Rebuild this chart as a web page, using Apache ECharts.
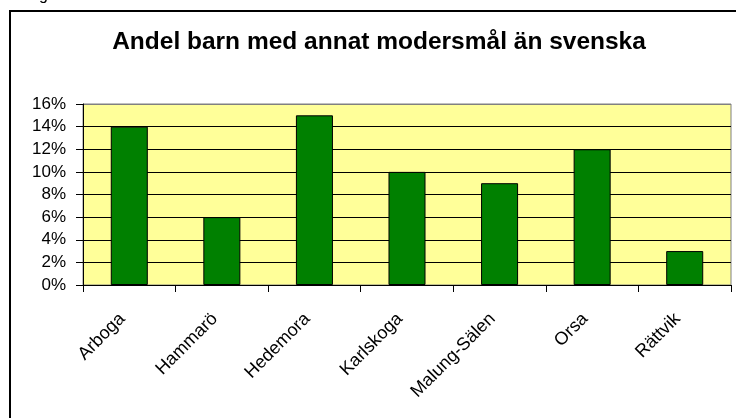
<!DOCTYPE html>
<html>
<head>
<meta charset="utf-8">
<script src="https://cdn.jsdelivr.net/npm/echarts@6/dist/echarts.min.js"></script>
<style>
html,body{margin:0;padding:0;background:#fff;}
#c{width:736px;height:418px;}
</style>
</head>
<body>
<div id="c"></div>
<script>
const titleText = 'Andel barn med annat modersmål än svenska';
const categories = ['Arboga', 'Hammarö', 'Hedemora', 'Karlskoga', 'Malung-Sälen', 'Orsa', 'Rättvik'];
const values = [14, 6, 15, 10, 9, 12, 3];
const yTicks = [0, 2, 4, 6, 8, 10, 12, 14, 16];

const chart = echarts.init(document.getElementById('c'), null, {renderer: 'canvas'});
const font = 'Liberation Sans, Arial, sans-serif';
chart.setOption({
  animation: false,
  backgroundColor: '#ffffff',
  textStyle: {fontFamily: font},
  title: {
    text: titleText,
    left: 374, top: 25,
    textAlign: 'center',
    textStyle: {fontFamily: font, fontSize: 24.5, fontWeight: 'bold', color: '#000'}
  },
  graphic: [
    {type: 'rect', shape: {x: 10, y: 11, width: 800, height: 500},
     style: {fill: 'none', stroke: '#000', lineWidth: 2}, z: 100},
    {type: 'text', left: 39, top: -12, style: {text: 'g', font: '16px Liberation Sans', fill: '#000'}}
  ],
  grid: {
    left: 83, right: 5, top: 104, bottom: 133,
    show: true, backgroundColor: '#FFFF99', borderColor: '#808080', borderWidth: 1
  },
  xAxis: {
    type: 'category',
    data: categories,
    axisLine: {show: true, lineStyle: {color: '#000', width: 1}},
    axisTick: {show: true, alignWithLabel: false, length: 7, inside: false, lineStyle: {color: '#000'}},
    axisLabel: {rotate: 45, margin: 24, padding: [0, 10, 0, 0], fontSize: 18, color: '#000', fontFamily: font, interval: 0},
    splitLine: {show: false}
  },
  yAxis: {
    type: 'value',
    min: yTicks[0], max: yTicks[yTicks.length - 1], interval: 2,
    axisLine: {show: true, lineStyle: {color: '#000', width: 1}},
    axisTick: {show: true, length: 7, lineStyle: {color: '#000'}},
    axisLabel: {formatter: v => v + '%', fontSize: 17, color: '#000', margin: 17, fontFamily: font},
    splitLine: {show: true, lineStyle: {color: ['#000','#000','#000','#000','#000','#000','#000','#000','#808080'], width: 1}}
  },
  series: [{
    type: 'bar',
    data: values,
    barWidth: '40%',
    itemStyle: {color: '#008000', borderColor: '#000', borderWidth: 1}
  }]
});
</script>
</body>
</html>
